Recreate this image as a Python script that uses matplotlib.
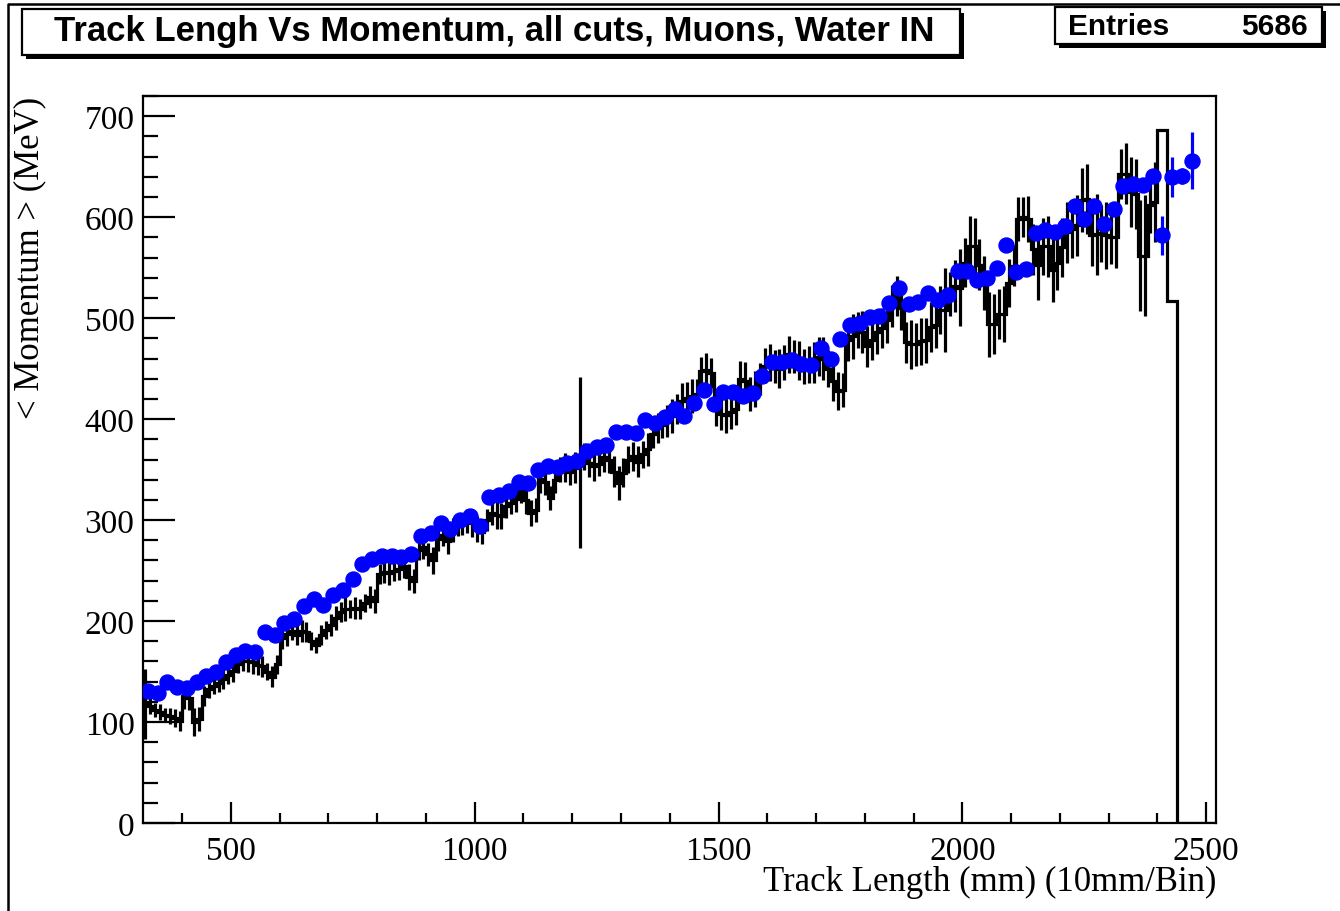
import numpy as np
import matplotlib
matplotlib.use("Agg")
import matplotlib.pyplot as plt
from matplotlib.patches import Rectangle
from matplotlib.ticker import MultipleLocator

# <Momentum> per 10 mm track-length bin, first bin edge at 320 mm
bin_lo = 320
bin_w = 10
black_mean = [
    118, 116, 112, 110, 107, 106, 104, 101, 126, 124,
    100, 103, 126, 133, 136, 139, 143, 147, 151, 157,
    160, 160, 159, 156, 155, 150, 145, 157, 183, 187,
    190, 186, 190, 189, 180, 176, 186, 191, 196, 203,
    209, 212, 212, 213, 212, 218, 224, 220, 247, 249,
    248, 250, 252, 255, 244, 240, 270, 273, 266, 260,
    281, 285, 279, 290, 294, 296, 299, 297, 291, 288,
    300, 307, 305, 304, 314, 317, 321, 329, 320, 307,
    310, 341, 338, 322, 340, 350, 352, 348, 352, 357,
    363, 357, 354, 356, 362, 360, 348, 337, 347, 360,
    363, 358, 365, 370, 385, 391, 394, 398, 403, 410,
    418, 421, 423, 425, 448, 449, 446, 410, 405, 404,
    407, 410, 440, 438, 425, 430, 440, 453, 456, 452,
    450, 456, 464, 462, 458, 452, 454, 456, 462, 460,
    450, 438, 428, 429, 478, 482, 488, 486, 472, 478,
    486, 490, 498, 512, 522, 510, 476, 474, 474, 477,
    478, 491, 493, 508, 508, 524, 532, 530, 555, 571,
    571, 553, 535, 494, 494, 504, 504, 535, 552, 598,
    600, 598, 568, 553, 571, 571, 548, 555, 570, 585,
    588, 592, 617, 618, 582, 583, 584, 582, 580, 580,
    643, 643, 625, 623, 562, 562, 612, 615, 686, 686,
    517, 517, 0, 0, 0, 0, 0, 0, 0, 0,
]
black_err = [
    35, 8, 7, 8, 7, 8, 9, 10, 13, 12,
    14, 12, 10, 9, 8, 9, 10, 9, 11, 8,
    9, 10, 11, 9, 10, 8, 10, 9, 11, 12,
    9, 10, 11, 10, 9, 8, 10, 9, 11, 12,
    10, 12, 9, 11, 10, 9, 11, 12, 10, 11,
    12, 10, 11, 12, 13, 12, 10, 12, 11, 13,
    12, 11, 13, 12, 10, 11, 12, 14, 13, 12,
    11, 12, 14, 13, 12, 11, 13, 12, 14, 13,
    12, 14, 13, 12, 13, 12, 14, 13, 15, 85,
    13, 14, 15, 12, 14, 13, 15, 17, 14, 13,
    14, 15, 13, 16, 14, 15, 13, 16, 17, 15,
    18, 16, 17, 15, 14, 16, 15, 17, 16, 18,
    17, 16, 18, 19, 17, 18, 16, 17, 18, 16,
    19, 17, 18, 16, 19, 17, 18, 20, 19, 21,
    18, 20, 19, 17, 20, 22, 18, 21, 20, 19,
    22, 20, 23, 21, 20, 22, 20, 24, 21, 23,
    22, 25, 23, 24, 42, 22, 26, 38, 24, 30,
    28, 25, 27, 32, 30, 25, 28, 24, 20, 22,
    20, 23, 25, 35, 28, 30, 32, 27, 29, 30,
    28, 30, 32, 35, 30, 40, 28, 33, 26, 30,
    25, 30, 35, 35, 55, 60, 28, 40, 0, 0,
    0, 0, 0, 0, 0, 0, 0, 0, 0, 0,
]

# blue points every 20 mm, 330 ... 2470
blue_x = list(range(330, 2471, 20))
blue_mean = [
    131, 129, 140, 135, 134, 140, 146, 150, 159, 166,
    170, 169, 189, 186, 198, 202, 215, 222, 216, 226,
    231, 242, 257, 261, 264, 264, 263, 266, 284, 287,
    297, 291, 300, 304, 294, 323, 325, 329, 338, 337,
    350, 354, 353, 357, 359, 368, 372, 374, 387, 387,
    386, 399, 396, 402, 410, 403, 416, 429, 415, 427,
    427, 423, 426, 443, 457, 457, 459, 455, 454, 470,
    460, 479, 493, 495, 501, 502, 515, 530, 514, 516,
    525, 518, 523, 547, 547, 538, 540, 550, 572, 546,
    549, 584, 587, 585, 591, 611, 598, 611, 593, 608,
    631, 633, 632, 641, 582, 640, 641, 656,
]
blue_err = [
    2, 2, 2, 2, 2, 2, 2, 2, 2, 2,
    2, 2, 2, 2, 2, 2, 2, 2, 2, 2,
    3, 3, 3, 3, 3, 3, 3, 3, 3, 3,
    3, 3, 3, 3, 3, 3, 3, 3, 3, 3,
    3, 3, 3, 3, 3, 3, 3, 3, 4, 4,
    4, 4, 4, 4, 4, 4, 4, 4, 4, 4,
    4, 4, 4, 4, 4, 4, 4, 4, 4, 4,
    4, 4, 5, 5, 5, 5, 5, 5, 5, 5,
    5, 5, 5, 5, 5, 5, 5, 5, 5, 5,
    5, 5, 5, 5, 6, 6, 6, 6, 6, 6,
    6, 6, 6, 7, 19, 20, 8, 28,
]

entries = 5686

serif = ["Liberation Serif", "DejaVu Serif"]
sans = ["Liberation Sans", "DejaVu Sans"]

W, H = 1340, 912
fig = plt.figure(figsize=(W / 100, H / 100), dpi=100)
ax = fig.add_axes([143 / W, 1 - 824 / H, (1216 - 143) / W, (824 - 97) / H])

edges = bin_lo + bin_w * np.arange(len(black_mean) + 1)
centers = edges[:-1] + bin_w / 2
black_mean = np.array(black_mean)
black_err = np.array(black_err)

ax.stairs(black_mean, edges, color="black", lw=2.3, baseline=None)
has = black_err > 0
ax.errorbar(centers[has], black_mean[has], yerr=black_err[has], fmt="none",
            ecolor="black", elinewidth=2.3, capsize=0)

ax.errorbar(blue_x, blue_mean, yerr=blue_err, fmt="o", color="#0000ff",
            ms=10.8, mec="#0000ff", ecolor="#0000ff", elinewidth=2.3,
            capsize=0, zorder=5)

ax.set_xlim(320, 2520)
ax.set_ylim(0, 720)
ax.xaxis.set_major_locator(MultipleLocator(500))
ax.xaxis.set_minor_locator(MultipleLocator(100))
ax.yaxis.set_major_locator(MultipleLocator(100))
ax.yaxis.set_minor_locator(MultipleLocator(20))
ax.tick_params(which="both", direction="in", top=False, right=False, width=1.6)
ax.tick_params(axis="x", which="major", length=15, pad=9)
ax.tick_params(axis="x", which="minor", length=7)
ax.tick_params(axis="y", which="major", length=23, pad=6)
ax.tick_params(axis="y", which="minor", length=11)
for lab in ax.get_xticklabels() + ax.get_yticklabels():
    lab.set_family(serif)
    lab.set_fontsize(24)
for s in ax.spines.values():
    s.set_linewidth(1.6)

fig.text(1216 / W, 1 - 882 / H, "Track Length (mm) (10mm/Bin)", family=serif,
         fontsize=25, ha="right", va="center")
fig.text(30 / W, 1 - 97 / H, "< Momentum > (MeV)", family=serif,
         fontsize=25, rotation=90, ha="center", va="top")


def shadow_box(x0, y0, x1, y1):
    # white box with a black drop shadow, pixel coords from top-left
    off = 4
    fig.add_artist(Rectangle((x0 / W + off / W, 1 - y1 / H - off / H),
                             (x1 - x0) / W, (y1 - y0) / H,
                             transform=fig.transFigure, fc="black", ec="black",
                             lw=0))
    fig.add_artist(Rectangle((x0 / W, 1 - y1 / H), (x1 - x0) / W, (y1 - y0) / H,
                             transform=fig.transFigure, fc="white", ec="black",
                             lw=1.6))


# canvas border
fig.add_artist(plt.Line2D([8 / W, 8 / W, 1], [0, 1 - 5 / H, 1 - 5 / H],
                          transform=fig.transFigure, color="black", lw=1.8))

shadow_box(22, 10, 960, 56)
fig.text(494 / W, 1 - 32 / H, "Track Lengh Vs Momentum, all cuts, Muons, Water IN",
         family=sans, fontweight="bold", fontsize=25, ha="center", va="center")

shadow_box(1055, 8, 1322, 45)
fig.text(1068 / W, 1 - 27 / H, "Entries", family=sans, fontweight="bold",
         fontsize=21.5, ha="left", va="center")
fig.text(1308 / W, 1 - 27 / H, str(entries), family=sans, fontweight="bold",
         fontsize=21.5, ha="right", va="center")

fig.savefig("out.png", dpi=100)
